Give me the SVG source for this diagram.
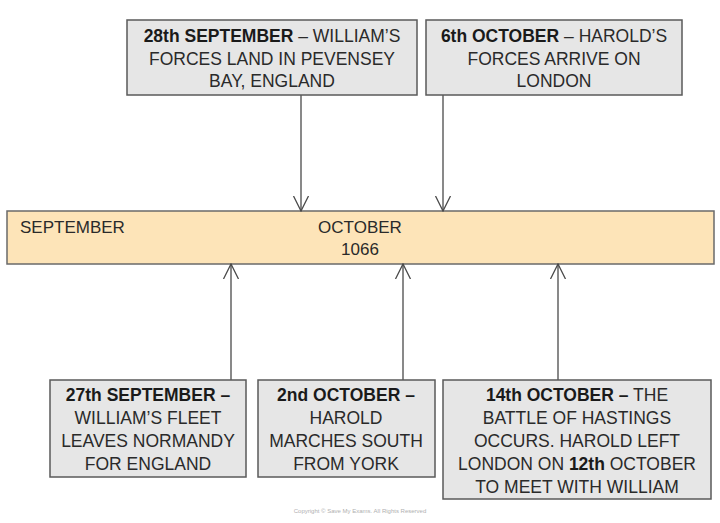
<svg xmlns="http://www.w3.org/2000/svg" width="720" height="523" viewBox="0 0 720 523">
<defs>
<style>
.box{fill:#e6e6e6;stroke:#5a5a5a;stroke-width:1.5}
.bar{fill:#fde4b8;stroke:#6a6a6a;stroke-width:1.5}
.t{font-family:"Liberation Sans",Arial,sans-serif;font-size:17.5px;fill:#2a2a2a;text-anchor:middle}
.b{font-weight:bold;fill:#1a1a1a}
.bt{font-family:"Liberation Sans",Arial,sans-serif;font-size:17px;fill:#2a2a2a}
.c{stroke:#4a4a4a;stroke-width:1.3;fill:none}
.cp{font-family:"Liberation Sans",Arial,sans-serif;font-size:6px;fill:#b0b0b0;text-anchor:middle}
</style>
<marker id="ah" viewBox="0 0 16 18" refX="15" refY="9" markerWidth="16" markerHeight="18" markerUnits="userSpaceOnUse" orient="auto">
<path d="M0,1.5 L15,9 L0,16.5" fill="none" stroke="#4a4a4a" stroke-width="1.3"/>
</marker>
</defs>
<rect width="720" height="523" fill="#ffffff"/>

<g id="timeline">
<rect class="bar" x="7" y="211" width="707" height="53"/>
<text class="bt" x="20" y="233">SEPTEMBER</text>
<text class="bt" x="360" y="233" text-anchor="middle">OCTOBER</text>
<text class="bt" x="360" y="255" text-anchor="middle">1066</text>
</g>

<g id="connectors">
<line class="c" x1="301" y1="95" x2="301" y2="211" marker-end="url(#ah)"/>
<line class="c" x1="443" y1="95" x2="443" y2="211" marker-end="url(#ah)"/>
<line class="c" x1="231" y1="380" x2="231" y2="264" marker-end="url(#ah)"/>
<line class="c" x1="403" y1="380" x2="403" y2="264" marker-end="url(#ah)"/>
<line class="c" x1="558" y1="380" x2="558" y2="264" marker-end="url(#ah)"/>
</g>

<g id="n28sep">
<rect class="box" x="127" y="20" width="290" height="75"/>
<text class="t" x="272" y="42"><tspan class="b">28th SEPTEMBER</tspan> – WILLIAM’S</text>
<text class="t" x="272" y="65">FORCES LAND IN PEVENSEY</text>
<text class="t" x="272" y="87">BAY, ENGLAND</text>
</g>

<g id="n6oct">
<rect class="box" x="426" y="20" width="256" height="75"/>
<text class="t" x="554" y="42"><tspan class="b">6th OCTOBER</tspan> – HAROLD’S</text>
<text class="t" x="554" y="65">FORCES ARRIVE ON</text>
<text class="t" x="554" y="87">LONDON</text>
</g>

<g id="n27sep">
<rect class="box" x="50" y="380" width="196" height="97"/>
<text class="t" x="148" y="401"><tspan class="b">27th SEPTEMBER –</tspan></text>
<text class="t" x="148" y="424">WILLIAM’S FLEET</text>
<text class="t" x="148" y="447">LEAVES NORMANDY</text>
<text class="t" x="148" y="470">FOR ENGLAND</text>
</g>

<g id="n2oct">
<rect class="box" x="258" y="380" width="177" height="97"/>
<text class="t" x="346" y="401"><tspan class="b">2nd OCTOBER –</tspan></text>
<text class="t" x="346" y="424">HAROLD</text>
<text class="t" x="346" y="447">MARCHES SOUTH</text>
<text class="t" x="346" y="470">FROM YORK</text>
</g>

<g id="n14oct">
<rect class="box" x="443" y="380" width="268" height="119"/>
<text class="t" x="577" y="401"><tspan class="b">14th OCTOBER –</tspan>  THE</text>
<text class="t" x="577" y="424">BATTLE OF HASTINGS</text>
<text class="t" x="577" y="447">OCCURS. HAROLD LEFT</text>
<text class="t" x="577" y="470">LONDON ON <tspan class="b">12th</tspan> OCTOBER</text>
<text class="t" x="577" y="493">TO MEET WITH WILLIAM</text>
</g>

<text class="cp" x="360" y="513">Copyright © Save My Exams. All Rights Reserved</text>
</svg>
